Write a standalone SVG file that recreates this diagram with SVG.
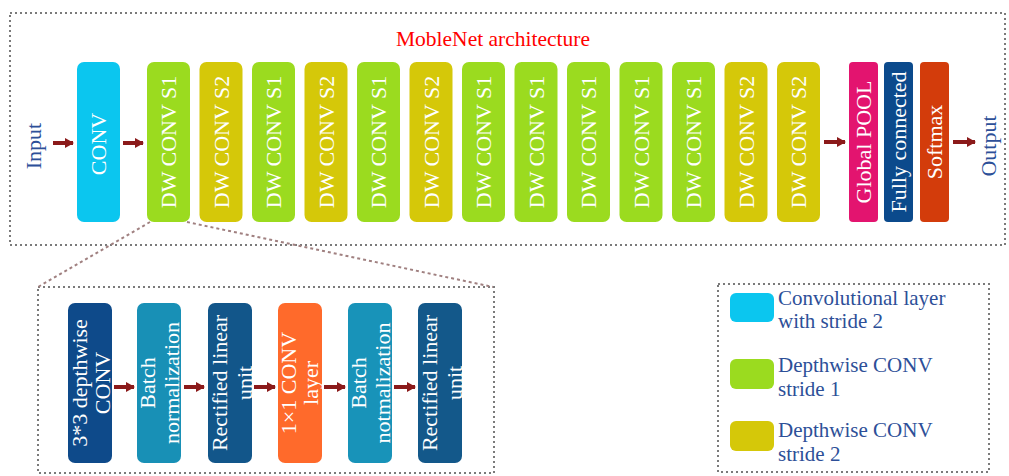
<svg xmlns="http://www.w3.org/2000/svg" width="1009" height="476" viewBox="0 0 1009 476">
<style>
text{font-family:"Liberation Serif","Times New Roman",serif;font-size:22px}
.w{fill:#ffffff}
.lbl{fill:#2d4f98}
.leg{font-size:21px}
.dot{fill:none;stroke:#7a7a7a;stroke-width:2;stroke-dasharray:2 3}
.zoomline{fill:none;stroke:#a08080;stroke-width:2;stroke-dasharray:3 3}
.cyan{fill:#0bc6ef}
.green{fill:#9bdb1f}
.yellow{fill:#d5c809}
.arr{stroke:#8b1a1a;stroke-width:4;fill:none}
</style>
<defs>
<marker id="ah" markerUnits="userSpaceOnUse" markerWidth="9" markerHeight="10" refX="8" refY="5" orient="auto">
<path d="M0,0 L9,5 L0,10 Z" fill="#8b1a1a"/>
</marker>
</defs>
<rect x="0" y="0" width="1009" height="476" fill="#ffffff"/>
<rect class="dot" x="10" y="13" width="995" height="232"/>
<text x="493" y="46" text-anchor="middle" fill="#ff0000" style="font-size:21.5px">MobleNet architecture</text>
<text class="lbl" transform="translate(41,146) rotate(-90)" text-anchor="middle">Input</text>
<text class="lbl" transform="translate(996,146) rotate(-90)" text-anchor="middle">Output</text>

<g id="conv"><rect class="cyan" x="77" y="62" width="43" height="160" rx="7"/><text class="w" transform="translate(106,144) rotate(-90)" text-anchor="middle">CONV</text></g>
<g id="dw1"><rect class="green" x="147" y="62" width="43" height="160" rx="7"/><text class="w" transform="translate(176,142) rotate(-90)" text-anchor="middle">DW CONV S1</text></g>
<g id="dw2"><rect class="yellow" x="199.5" y="62" width="43" height="160" rx="7"/><text class="w" transform="translate(228.5,142) rotate(-90)" text-anchor="middle">DW CONV S2</text></g>
<g id="dw3"><rect class="green" x="252" y="62" width="43" height="160" rx="7"/><text class="w" transform="translate(281,142) rotate(-90)" text-anchor="middle">DW CONV S1</text></g>
<g id="dw4"><rect class="yellow" x="304.5" y="62" width="43" height="160" rx="7"/><text class="w" transform="translate(333.5,142) rotate(-90)" text-anchor="middle">DW CONV S2</text></g>
<g id="dw5"><rect class="green" x="357" y="62" width="43" height="160" rx="7"/><text class="w" transform="translate(386,142) rotate(-90)" text-anchor="middle">DW CONV S1</text></g>
<g id="dw6"><rect class="yellow" x="409.5" y="62" width="43" height="160" rx="7"/><text class="w" transform="translate(438.5,142) rotate(-90)" text-anchor="middle">DW CONV S2</text></g>
<g id="dw7"><rect class="green" x="462" y="62" width="43" height="160" rx="7"/><text class="w" transform="translate(491,142) rotate(-90)" text-anchor="middle">DW CONV S1</text></g>
<g id="dw8"><rect class="green" x="514.5" y="62" width="43" height="160" rx="7"/><text class="w" transform="translate(543.5,142) rotate(-90)" text-anchor="middle">DW CONV S1</text></g>
<g id="dw9"><rect class="green" x="567" y="62" width="43" height="160" rx="7"/><text class="w" transform="translate(596,142) rotate(-90)" text-anchor="middle">DW CONV S1</text></g>
<g id="dw10"><rect class="green" x="619.5" y="62" width="43" height="160" rx="7"/><text class="w" transform="translate(648.5,142) rotate(-90)" text-anchor="middle">DW CONV S1</text></g>
<g id="dw11"><rect class="green" x="672" y="62" width="43" height="160" rx="7"/><text class="w" transform="translate(701,142) rotate(-90)" text-anchor="middle">DW CONV S1</text></g>
<g id="dw12"><rect class="yellow" x="724.5" y="62" width="43" height="160" rx="7"/><text class="w" transform="translate(753.5,142) rotate(-90)" text-anchor="middle">DW CONV S2</text></g>
<g id="dw13"><rect class="yellow" x="777" y="62" width="43" height="160" rx="7"/><text class="w" transform="translate(806,142) rotate(-90)" text-anchor="middle">DW CONV S2</text></g>
<g id="pool"><rect fill="#e3146f" x="849" y="62" width="29" height="160" rx="4"/><text class="w" transform="translate(871,142) rotate(-90)" text-anchor="middle">Global POOL</text></g>
<g id="fc"><rect fill="#0b4a8c" x="884" y="62" width="29" height="160" rx="4"/><text class="w" transform="translate(906,142) rotate(-90)" text-anchor="middle">Fully connected</text></g>
<g id="softmax"><rect fill="#d33c0b" x="920" y="62" width="29" height="160" rx="4"/><text class="w" transform="translate(942,142) rotate(-90)" text-anchor="middle">Softmax</text></g>

<rect class="dot" x="38" y="287" width="456" height="186"/>
<g id="b1"><rect fill="#0e4a8a" x="68" y="303" width="44" height="160" rx="7"/><text class="w" transform="translate(87,383) rotate(-90)" text-anchor="middle">3*3 depthwise</text><text class="w" transform="translate(110,383) rotate(-90)" text-anchor="middle">CONV</text></g>
<g id="b2"><rect fill="#1890b6" x="137" y="303" width="44" height="160" rx="7"/><text class="w" transform="translate(155,383) rotate(-90)" text-anchor="middle">Batch</text><text class="w" transform="translate(179,383) rotate(-90)" text-anchor="middle">normalization</text></g>
<g id="b3"><rect fill="#12568a" x="208" y="303" width="44" height="160" rx="7"/><text class="w" transform="translate(227,383) rotate(-90)" text-anchor="middle">Rectified linear</text><text class="w" transform="translate(252,383) rotate(-90)" text-anchor="middle">unit</text></g>
<g id="b4"><rect fill="#ff6a2b" x="278" y="303" width="44" height="160" rx="7"/><text class="w" transform="translate(296,383) rotate(-90)" text-anchor="middle">1×1 CONV</text><text class="w" transform="translate(318,383) rotate(-90)" text-anchor="middle">layer</text></g>
<g id="b5"><rect fill="#1893b9" x="348" y="303" width="44" height="160" rx="7"/><text class="w" transform="translate(366,383) rotate(-90)" text-anchor="middle">Batch</text><text class="w" transform="translate(390,383) rotate(-90)" text-anchor="middle">notmalization</text></g>
<g id="b6"><rect fill="#13588a" x="418" y="303" width="44" height="160" rx="7"/><text class="w" transform="translate(437,383) rotate(-90)" text-anchor="middle">Rectified linear</text><text class="w" transform="translate(462,383) rotate(-90)" text-anchor="middle">unit</text></g>

<g id="legend">
<rect class="dot" x="718" y="284" width="271" height="188"/>
<rect class="cyan" x="730" y="293" width="44" height="29" rx="6"/>
<rect class="green" x="730" y="359" width="44" height="30" rx="6"/>
<rect class="yellow" x="730" y="421" width="44" height="30" rx="6"/>
<text class="lbl leg" x="778" y="305">Convolutional layer</text>
<text class="lbl leg" x="778" y="328">with stride 2</text>
<text class="lbl leg" x="778" y="372">Depthwise CONV</text>
<text class="lbl leg" x="778" y="396">stride 1</text>
<text class="lbl leg" x="778" y="437">Depthwise CONV</text>
<text class="lbl leg" x="778" y="461">stride 2</text>
</g>

<g id="connectors">
<line class="arr" x1="53" y1="143" x2="73" y2="143" marker-end="url(#ah)"/>
<line class="arr" x1="123" y1="143" x2="143" y2="143" marker-end="url(#ah)"/>
<line class="arr" x1="824" y1="142" x2="845" y2="142" marker-end="url(#ah)"/>
<line class="arr" x1="953" y1="142" x2="975" y2="142" marker-end="url(#ah)"/>
<line class="arr" x1="114" y1="387" x2="134" y2="387" marker-end="url(#ah)"/>
<line class="arr" x1="184" y1="387" x2="204" y2="387" marker-end="url(#ah)"/>
<line class="arr" x1="254" y1="387" x2="275" y2="387" marker-end="url(#ah)"/>
<line class="arr" x1="324" y1="387" x2="345" y2="387" marker-end="url(#ah)"/>
<line class="arr" x1="394" y1="387" x2="415" y2="387" marker-end="url(#ah)"/>
<line class="zoomline" x1="150" y1="222" x2="38" y2="287"/>
<line class="zoomline" x1="187" y1="222" x2="493" y2="287"/>
</g>
</svg>
